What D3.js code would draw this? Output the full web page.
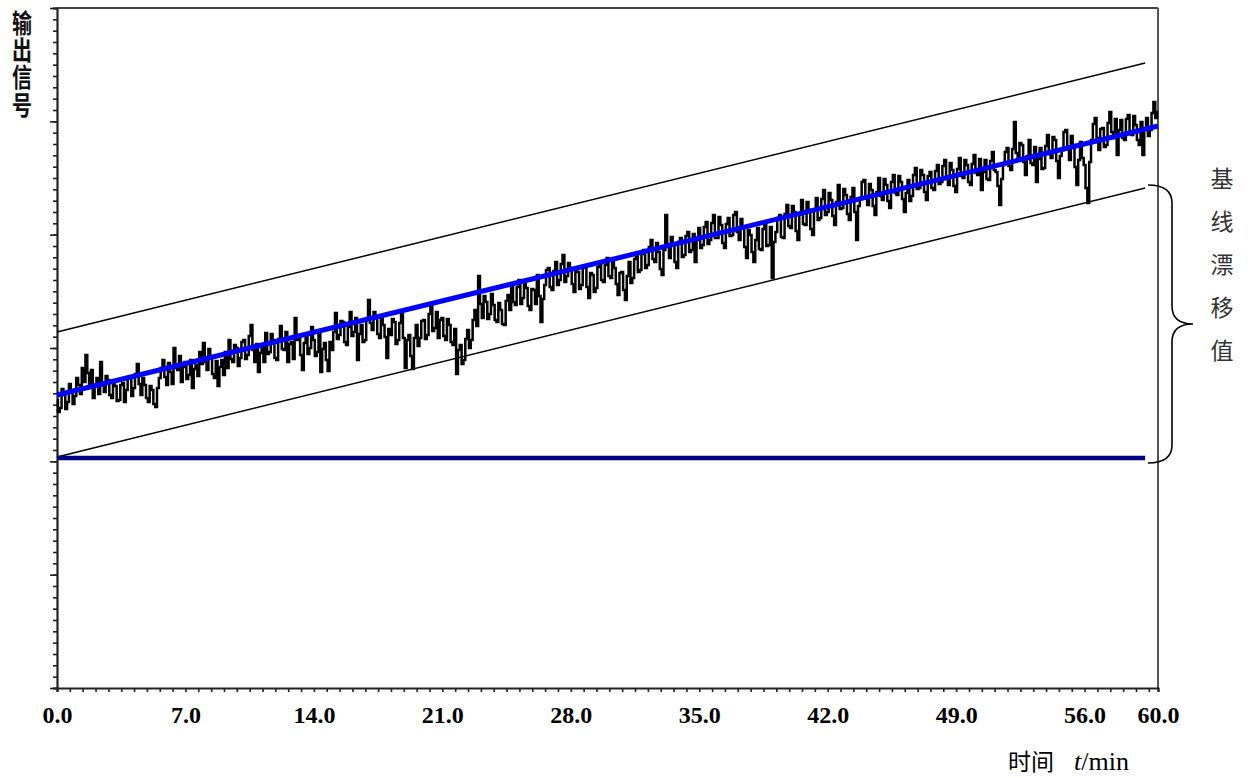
<!DOCTYPE html>
<html>
<head>
<meta charset="utf-8">
<script src="https://cdn.jsdelivr.net/npm/d3@7"></script>
<style>
  html, body { margin: 0; padding: 0; background: #fff; }
  svg { display: block; }
</style>
</head>
<body>
<svg id="chart" width="1253" height="778"></svg>
<script>
// ---------------- data ----------------
const xTickLabels = [0, 7, 14, 21, 28, 35, 42, 49, 56, 60];
const xMinorStep = 0.7;
const xDomain = [0, 60];
const yDomain = [0, 68];
const yTickCount = 60;
const sampleStep = 0.1; // minutes between samples

// output signal, one value every 0.1 min from 0 to 60 min (one row = 2 min)
const signal = [
  28.8, 27.6, 28.0, 29.9, 29.3, 27.9, 28.6, 30.4, 29.8, 28.4, 29.2, 31.0, 30.3, 29.4, 32.0, 30.6, 33.3, 31.5, 30.3, 31.8,
  29.0, 30.2, 31.0, 29.4, 32.6, 30.5, 29.6, 31.2, 30.8, 29.3, 29.0, 30.6, 30.2, 28.7, 28.8, 30.3, 30.5, 28.6, 29.8, 31.0,
  31.0, 29.2, 30.0, 31.4, 32.4, 30.4, 29.3, 31.0, 30.3, 29.0, 28.6, 30.2, 29.8, 28.4, 28.1, 30.0, 31.0, 32.0, 32.8, 31.1,
  30.3, 32.5, 31.6, 30.4, 34.0, 32.0, 31.8, 33.2, 30.6, 32.1, 32.6, 30.9, 31.3, 32.8, 30.0, 31.9, 32.3, 31.2, 33.6, 32.4,
  34.5, 32.6, 31.8, 33.9, 33.0, 31.4, 31.0, 32.7, 30.2, 32.1, 32.8, 31.3, 33.6, 32.0, 34.8, 32.9, 32.6, 34.3, 34.0, 32.2,
  33.0, 34.6, 34.8, 32.9, 33.3, 35.2, 36.3, 33.8, 32.6, 34.4, 31.6, 33.5, 34.3, 32.6, 35.5, 33.4, 33.6, 35.4, 34.8, 33.0,
  32.8, 34.9, 36.2, 33.9, 33.8, 35.6, 32.6, 34.4, 34.6, 32.9, 37.0, 34.8, 35.0, 33.3, 31.8, 34.5, 35.3, 33.4, 34.0, 36.1,
  34.8, 33.2, 33.6, 35.4, 31.6, 33.9, 34.5, 32.8, 31.7, 34.6, 33.8, 35.6, 37.5, 34.9, 35.3, 36.7, 36.6, 34.6, 34.3, 36.1,
  37.6, 35.2, 35.6, 37.0, 32.8, 35.4, 36.3, 34.6, 34.8, 36.9, 38.8, 36.5, 35.8, 37.6, 37.0, 35.4, 35.0, 37.2, 36.3, 35.1,
  33.0, 35.9, 35.3, 36.9, 36.6, 34.4, 34.8, 36.5, 37.5, 35.0, 32.0, 34.8, 35.3, 33.2, 31.9, 35.0, 36.3, 34.2, 35.0, 36.7,
  36.8, 34.9, 35.3, 37.4, 38.3, 35.7, 36.0, 37.6, 35.0, 36.8, 37.0, 35.2, 34.8, 36.9, 36.3, 34.6, 34.3, 35.9, 31.4, 33.8,
  34.3, 32.4, 32.8, 34.9, 35.8, 34.0, 34.8, 36.8, 37.8, 36.2, 41.2, 38.4, 37.0, 39.2, 38.6, 36.9, 37.4, 39.4, 38.3, 36.8,
  36.6, 38.5, 37.8, 36.4, 36.3, 38.7, 39.3, 37.8, 40.3, 38.6, 38.3, 40.1, 40.8, 38.4, 39.0, 40.6, 40.0, 38.2, 37.8, 39.9,
  39.8, 38.4, 41.3, 39.2, 36.6, 38.9, 40.3, 41.8, 42.0, 40.1, 39.8, 41.7, 42.6, 40.3, 40.8, 42.4, 43.3, 40.6, 41.2, 42.5,
  42.0, 40.4, 39.6, 41.8, 41.6, 39.9, 40.3, 42.2, 42.0, 40.1, 39.0, 41.5, 41.3, 39.6, 40.0, 42.1, 42.3, 40.8, 40.6, 42.3,
  43.0, 41.2, 41.0, 42.9, 42.0, 40.4, 39.3, 41.5, 41.6, 39.8, 38.8, 41.2, 42.6, 40.5, 41.0, 42.9, 43.3, 41.6, 41.8, 43.4,
  43.8, 42.0, 42.3, 44.1, 44.8, 42.9, 42.6, 44.5, 43.6, 41.9, 41.3, 43.8, 47.3, 44.2, 43.0, 45.1, 44.3, 42.6, 42.0, 44.6,
  45.0, 43.1, 43.3, 45.2, 45.6, 43.6, 43.8, 45.4, 42.6, 44.8, 46.0, 44.0, 44.3, 46.1, 46.6, 44.4, 44.8, 46.5, 47.3, 45.0,
  45.0, 47.1, 46.3, 44.5, 44.0, 46.4, 47.0, 45.2, 45.3, 47.3, 47.6, 45.6, 44.8, 46.9, 46.0, 44.1, 43.0, 45.8, 45.3, 43.6,
  42.6, 44.8, 46.0, 43.9, 43.8, 45.9, 46.6, 44.2, 44.3, 46.1, 41.0, 44.6, 45.6, 47.0, 47.3, 45.1, 45.0, 47.4, 48.3, 46.2,
  46.0, 48.2, 47.6, 45.7, 44.8, 47.4, 48.8, 46.4, 46.3, 48.6, 47.8, 45.9, 45.3, 47.8, 49.0, 46.8, 47.0, 48.9, 49.8, 47.3,
  47.6, 49.5, 48.8, 47.2, 46.3, 48.6, 50.3, 47.9, 48.0, 49.9, 49.3, 47.4, 46.8, 49.1, 50.0, 47.6, 44.8, 48.2, 49.0, 50.6,
  50.8, 49.1, 48.3, 50.4, 49.8, 48.2, 47.3, 49.6, 51.0, 49.2, 48.8, 50.9, 50.3, 48.7, 48.0, 50.6, 51.3, 49.5, 49.3, 51.2,
  50.6, 48.9, 47.6, 49.5, 50.8, 48.7, 49.2, 51.3, 52.0, 49.9, 50.0, 51.8, 51.3, 49.6, 48.8, 51.2, 51.6, 50.0, 49.8, 51.7,
  52.3, 50.4, 50.6, 52.2, 52.8, 50.9, 50.3, 52.5, 51.8, 50.2, 49.6, 51.9, 53.0, 51.2, 51.0, 52.8, 52.3, 50.6, 50.3, 52.4,
  53.3, 51.5, 51.3, 52.9, 49.8, 51.6, 52.8, 50.9, 50.8, 52.7, 53.6, 51.8, 51.6, 50.2, 48.3, 50.9, 52.3, 53.6, 54.0, 52.2,
  51.8, 53.9, 56.6, 53.5, 52.8, 54.5, 54.3, 52.6, 51.3, 53.2, 54.8, 52.5, 52.3, 54.1, 50.6, 52.9, 54.0, 51.9, 52.0, 54.2,
  55.3, 53.4, 53.0, 55.1, 54.8, 52.7, 51.0, 53.2, 53.8, 55.6, 55.8, 53.9, 52.8, 55.2, 54.3, 52.1, 50.3, 52.8, 54.6, 53.0,
  52.3, 50.0, 48.5, 52.6, 54.8, 56.4, 57.0, 55.0, 53.8, 55.9, 56.0, 54.1, 54.3, 56.5, 57.6, 55.6, 55.0, 56.9, 53.3, 55.8,
  56.8, 55.0, 54.8, 56.9, 57.3, 55.4, 55.3, 57.2, 56.3, 54.8, 54.3, 56.6, 53.3, 55.9, 57.0, 55.2, 55.8, 57.5, 58.6, 57.0,
  57.6
];

// fitted drift trend and envelope lines: [time, value]
const trendLine = [[0, 29.3], [60, 56.2]];
const upperEnvelope = [[0, 35.6], [59.3, 62.5]];
const lowerEnvelope = [[0, 23.1], [59.3, 50.0]];
const baselineLine = [[0, 23.0], [59.3, 23.0]];

const yAxisLabel = "输出信号";
const driftLabel = "基线漂移值";
const xTitleCJK = "时间";

// ---------------- chart ----------------
const svg = d3.select("#chart");
const pLeft = 57, pRight = 1158, pTop = 8, pBottom = 688;

const x = d3.scaleLinear().domain(xDomain).range([pLeft, pRight]);
const y = d3.scaleLinear().domain(yDomain).range([pBottom, pTop]);

// frame (top / right)
svg.append("line").attr("x1", pLeft).attr("x2", pRight).attr("y1", pTop).attr("y2", pTop)
  .attr("stroke", "#444").attr("stroke-width", 2);
svg.append("line").attr("x1", pRight).attr("x2", pRight).attr("y1", pTop).attr("y2", pBottom)
  .attr("stroke", "#555").attr("stroke-width", 2);

// x axis minor ticks
const minorX = d3.range(0, 60, xMinorStep).concat([60]);
const gxMinor = svg.append("g").attr("transform", `translate(0,${pBottom})`)
  .call(d3.axisBottom(x).tickValues(minorX).tickSize(4).tickFormat(""));
gxMinor.select(".domain").attr("stroke", "#222").attr("stroke-width", 2.2);
gxMinor.selectAll(".tick line").attr("stroke", "#222").attr("stroke-width", 1.6);

// x axis labels
const gxLab = svg.append("g").attr("transform", `translate(0,${pBottom})`)
  .call(d3.axisBottom(x).tickValues(xTickLabels).tickSize(0).tickPadding(18)
    .tickFormat(d3.format(".1f")));
gxLab.select(".domain").remove();
gxLab.selectAll("text")
  .attr("font-family", "'Liberation Serif', 'Times New Roman', serif")
  .attr("font-weight", "bold").attr("font-size", 24).attr("fill", "#000");

// y axis ticks
const yTicks = d3.range(0, yTickCount + 1).map(i => i * (yDomain[1] / yTickCount));
const yMajor = yTicks.filter((d, i) => i % 10 === 0);
const gyMinor = svg.append("g").attr("transform", `translate(${pLeft},0)`)
  .call(d3.axisLeft(y).tickValues(yTicks).tickSize(4).tickFormat(""));
gyMinor.select(".domain").attr("stroke", "#222").attr("stroke-width", 2.2);
gyMinor.selectAll(".tick line").attr("stroke", "#222").attr("stroke-width", 1.6);
const gyMajor = svg.append("g").attr("transform", `translate(${pLeft},0)`)
  .call(d3.axisLeft(y).tickValues(yMajor).tickSize(7).tickFormat(""));
gyMajor.select(".domain").remove();
gyMajor.selectAll(".tick line").attr("stroke", "#222").attr("stroke-width", 1.6);

// envelope lines
const seg = d3.line().x(d => x(d[0])).y(d => y(d[1]));
svg.append("path").datum(upperEnvelope).attr("d", seg)
  .attr("fill", "none").attr("stroke", "#000").attr("stroke-width", 1.5);
svg.append("path").datum(lowerEnvelope).attr("d", seg)
  .attr("fill", "none").attr("stroke", "#000").attr("stroke-width", 1.5);

// baseline (navy)
svg.append("path").datum(baselineLine).attr("d", seg)
  .attr("fill", "none").attr("stroke", "#000080").attr("stroke-width", 4.5);

// signal (step trace)
const sigLine = d3.line()
  .x((d, i) => x(i * sampleStep))
  .y(d => y(d))
  .curve(d3.curveStep);
svg.append("path").datum(signal).attr("d", sigLine)
  .attr("fill", "none").attr("stroke", "#000").attr("stroke-width", 2.5)
  .attr("stroke-linejoin", "miter").attr("stroke-linecap", "butt");

// trend (blue)
svg.append("path").datum(trendLine).attr("d", seg)
  .attr("fill", "none").attr("stroke", "#0000ff").attr("stroke-width", 5);

// brace
const bTop = y(lowerEnvelope[1][1]) - 3;
const bBot = y(baselineLine[0][1]) + 5;
const bMid = (bTop + bBot) / 2;
const bx0 = 1148, bx1 = 1172, bx2 = 1193;
const bp = d3.path();
bp.moveTo(bx0, bTop);
bp.quadraticCurveTo(bx1, bTop, bx1, bTop + 18);
bp.lineTo(bx1, bMid - 18);
bp.quadraticCurveTo(bx1, bMid, bx2, bMid);
bp.quadraticCurveTo(bx1, bMid, bx1, bMid + 18);
bp.lineTo(bx1, bBot - 18);
bp.quadraticCurveTo(bx1, bBot, bx0, bBot);
svg.append("path").attr("d", bp.toString())
  .attr("fill", "none").attr("stroke", "#000").attr("stroke-width", 1.6);

// drift label (vertical)
svg.append("text")
  .attr("x", 1222).attr("y", 167)
  .style("writing-mode", "vertical-rl")
  .attr("font-family", "'Noto Sans CJK SC', sans-serif")
  .attr("font-size", 23).attr("letter-spacing", 20).attr("fill", "#333")
  .text(driftLabel);

// y axis label (vertical, condensed)
svg.append("text")
  .attr("transform", "translate(22,10) scale(1,1.3)")
  .attr("x", 0).attr("y", 0)
  .style("writing-mode", "vertical-rl")
  .attr("font-family", "'Noto Sans CJK SC', sans-serif")
  .attr("font-weight", "bold")
  .attr("font-size", 20).attr("letter-spacing", 1).attr("fill", "#111")
  .text(yAxisLabel);

// x axis title
const xt = svg.append("text").attr("x", 1008).attr("y", 770)
  .attr("font-family", "'Liberation Serif', 'Times New Roman', serif")
  .attr("font-size", 26).attr("fill", "#000");
xt.append("tspan").attr("font-family", "'Noto Sans CJK SC', sans-serif")
  .attr("font-size", 23).text(xTitleCJK);
xt.append("tspan").attr("dx", 20).attr("font-style", "italic").text("t");
xt.append("tspan").text("/min");
</script>
</body>
</html>
